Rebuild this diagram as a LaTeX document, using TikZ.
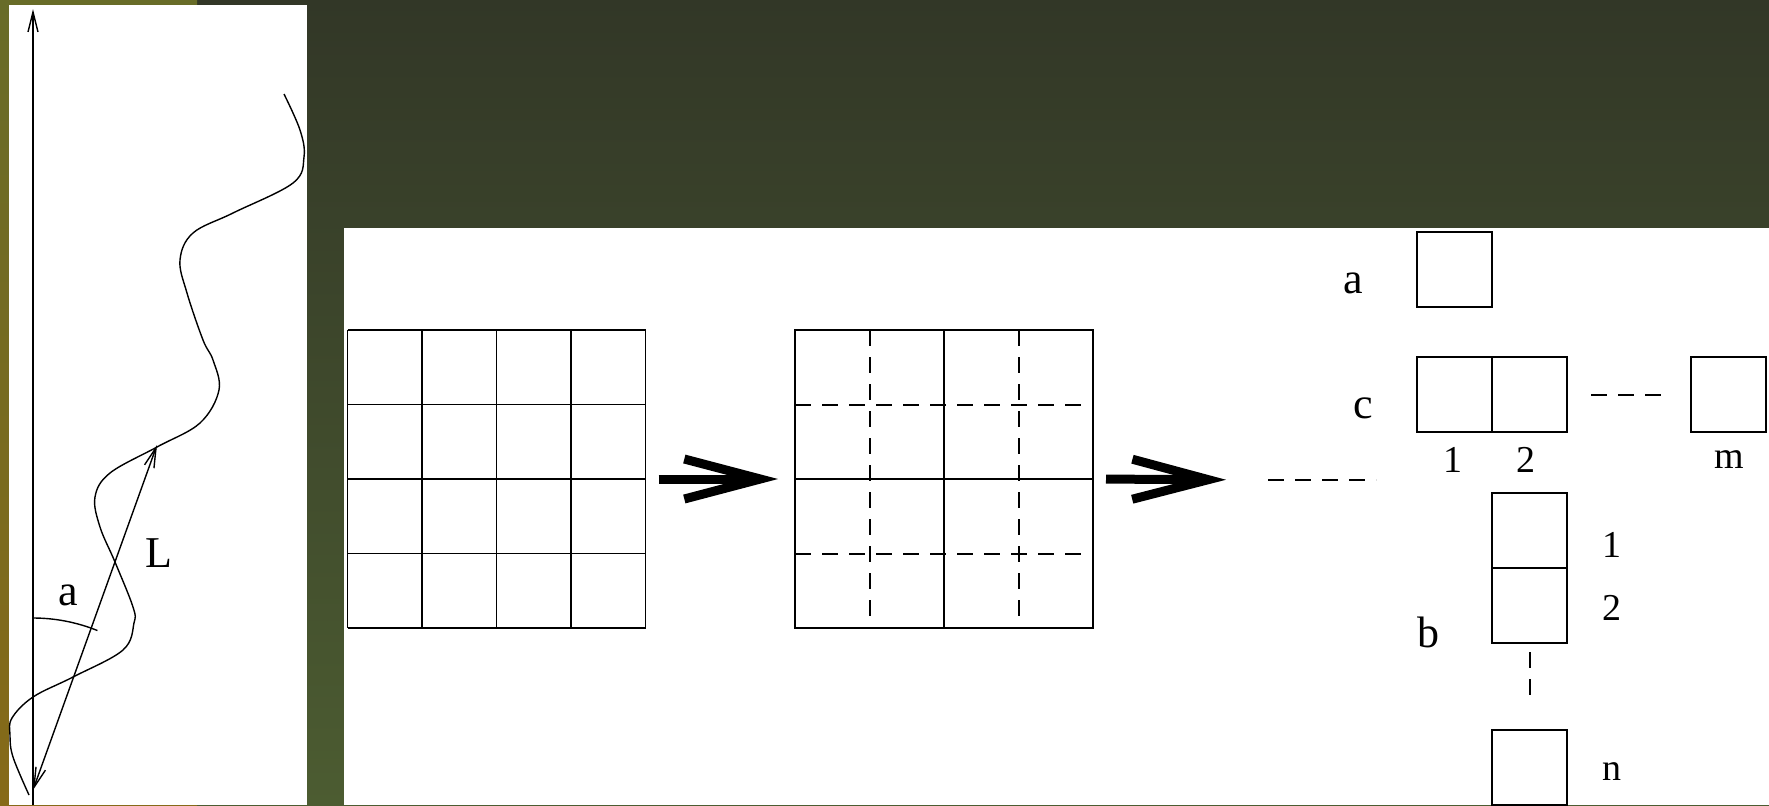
\documentclass[tikz,border=0pt]{standalone}
\usepackage{fontspec}
\setmainfont{Liberation Serif}
\usetikzlibrary{arrows.meta, positioning}
\definecolor{slidetop}{RGB}{50,55,39}
\definecolor{slidebot}{RGB}{76,92,49}
\definecolor{bartop}{RGB}{104,108,40}
\definecolor{barbot}{RGB}{134,106,24}

\tikzset{
  thinline/.style={line width=0.7pt},
  cellbox/.style={draw, line width=0.75pt, minimum size=37.5pt, inner sep=0pt, outer sep=0pt},
  dashline/.style={line width=1pt, dash pattern=on 8pt off 5.5pt},
  bigarrow/.style={line width=4.5pt, -{Straight Barb[sharp, length=38pt, width=20pt]}},
  biglabel/.style={font=\fontsize{22}{26}\selectfont},
  smalllabel/.style={font=\fontsize{19}{22}\selectfont},
}

\begin{document}
\begin{tikzpicture}[x=0.5pt, y=-0.5pt, >={Straight Barb[length=10pt, width=5pt]}]
  \useasboundingbox (0,0) rectangle (1769,805);
  % slide background
  \shade[top color=slidetop, bottom color=slidebot] (0,0) rectangle (1769,805);
  \shade[top color=bartop, bottom color=barbot] (0,0) rectangle (197,805);
  \fill[white] (9,4.5) rectangle (307,805);
  \fill[white] (344,228) rectangle (1769,805);

  % left panel: chain and end-to-end vector
  \coordinate (axisbot) at (33,805);
  \coordinate (axistop) at (33,9);
  \draw[thinline, ->] (axisbot) -- (axistop);
  \coordinate (Lbot) at (33,790);
  \coordinate (Ltop) at (157,445);
  \draw[thinline, <->] (Lbot) -- (Ltop);
  \draw[thinline] (33,618) arc[start angle=-90, end angle=-68, radius=172];
  \draw[thinline] plot[smooth, tension=0.6] coordinates {
    (284,94) (300,130) (304,157) (293,183) (233,213) (193,233) (180,260)
    (187,293) (203,340) (213,360) (219,390) (200,423) (157,447) (110,473)
    (95,497) (100,527) (115,562) (133,607) (134,623) (123,650) (73,677)
    (33,697) (12,718) (10,735) (13,757) (29,795)};
  \node[biglabel] (lblangle) at (68,595) {a};
  \node[biglabel] (lbllen) at (159,553) {L};

  % fine grid
  \node[inner sep=0pt, outer sep=0pt, minimum width=149pt, minimum height=149pt] (gridA) at (496.5,479) {};
  \foreach \k in {0,...,4} {
    \draw[thinline] (347.5+74.5*\k,330) -- ++(0,298);
    \draw[thinline] (347.5,330+74.5*\k) -- ++(298,0);
  }

  % coarse grid
  \node[inner sep=0pt, outer sep=0pt, minimum width=149pt, minimum height=149pt] (gridB) at (944,479) {};
  \draw[line width=1.25pt] (795,330) rectangle ++(298,298);
  \draw[line width=1.25pt] (944,330) -- ++(0,298) (795,479) -- ++(298,0);
  \foreach \k in {1,3} {
    \draw[dashline] (795+74.5*\k,330) -- ++(0,298);
    \draw[dashline] (795,330+74.5*\k) -- ++(298,0);
  }

  \coordinate (dashstart) at (1268,480);
  \coordinate (dashend) at (1376,480);
  \draw[bigarrow, shorten <=6.5pt, shorten >=8.5pt] (gridA.east) -- (gridB.west);
  \draw[bigarrow, shorten <=6.5pt, shorten >=21pt] (gridB.east) -- (dashstart);
  \draw[dashline] (dashstart) -- (dashend);

  % arrays
  \node[cellbox] (c1) at (1454.5,394.5) {};
  \node[cellbox, right=0pt of c1] (c2) {};
  \node[cellbox, above=25pt of c1] (boxa) {};
  \node[cellbox, right=62pt of c2] (cm) {};
  \node[cellbox, below=30.5pt of c2] (b1) {};
  \node[cellbox, below=0pt of b1] (b2) {};
  \node[cellbox, below=43.5pt of b2] (bn) {};
  \draw[dashline, shorten <=12pt, shorten >=12pt] (c2) -- (cm);
  \draw[dashline, shorten <=4.5pt, shorten >=14pt] (b2) -- (bn);

  \node[biglabel] (lbla) at (1353,283) {a};
  \node[biglabel] (lblc) at (1363,408) {c};
  \node[biglabel] (lblb) at (1428,632) {b};
  \node[smalllabel] (c1num) at (1453,460) {1};
  \node[smalllabel] (c2num) at (1526,460) {2};
  \node[smalllabel] (cmnum) at (1729,460) {m};
  \node[smalllabel] (b1num) at (1612,545) {1};
  \node[smalllabel] (b2num) at (1612,608) {2};
  \node[smalllabel] (bnnum) at (1612,772) {n};
\end{tikzpicture}
\end{document}
